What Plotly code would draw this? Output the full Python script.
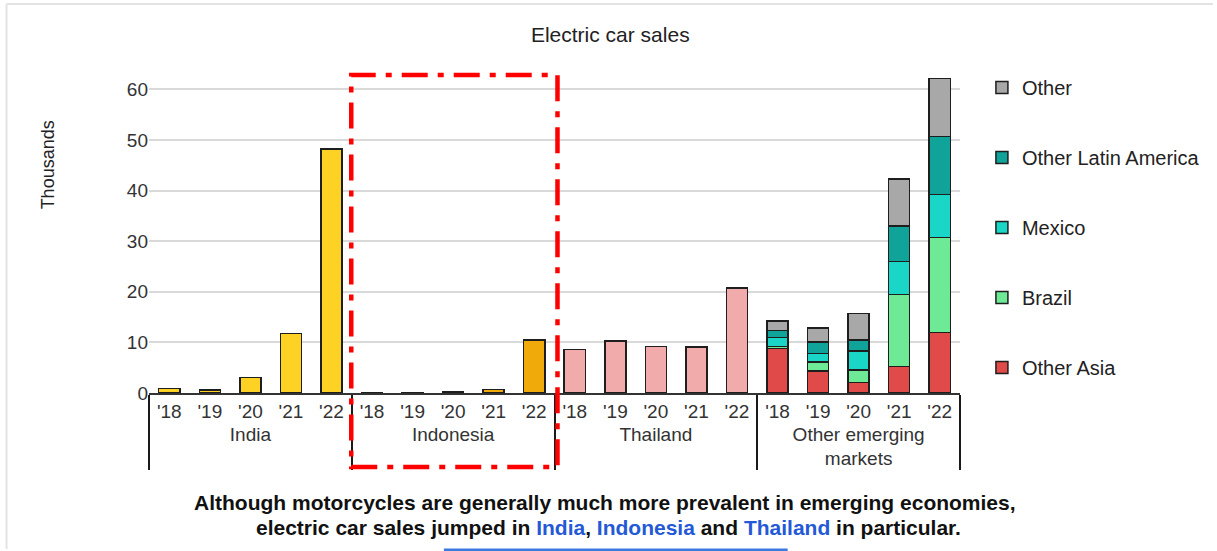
import plotly.graph_objects as go

years = ["'18", "'19", "'20", "'21", "'22"]
groups = ["India", "Indonesia", "Thailand", "Other emerging<br>markets"]

india = [0.9, 0.6, 3.1, 11.8, 48.2]
indonesia = [0.05, 0.1, 0.3, 0.7, 10.5]
thailand = [8.6, 10.3, 9.2, 9.1, 20.7]

other_asia = [8.8, 4.3, 2.1, 5.2, 12.0]
brazil = [0.4, 1.8, 2.4, 14.3, 18.7]
mexico = [1.8, 1.7, 3.8, 6.5, 8.5]
other_latam = [1.3, 2.3, 2.15, 7.0, 11.5]
other = [1.9, 2.7, 5.25, 9.3, 11.4]

FONT = "Liberation Sans, Arial, sans-serif"
OUT = "#1e1e1e"

fig = go.Figure()

def xs(g):
    return [[g] * len(years), years]

single = [
    (groups[0], india, "#FDD225"),
    (groups[1], indonesia, "#F0AA0A"),
    (groups[2], thailand, "#F2ABAB"),
]
for g, vals, col in single:
    fig.add_trace(go.Bar(x=xs(g), y=vals, name=g, showlegend=False,
                         marker=dict(color=col, line=dict(color=OUT, width=1.5))))

stack = [
    ("Other Asia", other_asia, "#E04A48"),
    ("Brazil", brazil, "#6EEA96"),
    ("Mexico", mexico, "#19D6C6"),
    ("Other Latin America", other_latam, "#10A39A"),
    ("Other", other, "#A8A8A8"),
]
for i, (name, vals, col) in enumerate(stack):
    fig.add_trace(go.Bar(x=xs(groups[3]), y=vals, name=name, legendgroup=name,
                         legendrank=len(stack) - i,
                         marker=dict(color=col, line=dict(color=OUT, width=1.5))))

fig.update_layout(
    width=1217, height=551,
    margin=dict(l=149, r=254, t=64, b=158),
    paper_bgcolor="white", plot_bgcolor="white",
    barmode="stack", bargap=0.48,
    font=dict(family=FONT, size=19, color="#333333"),
    title=dict(text="Electric car sales", x=(612 - 149) / 814, xref="paper", xanchor="center",
               y=1 - 35 / 551, yanchor="middle", font=dict(size=21, color="#222222")),
    legend=dict(x=(985 - 149) / 814, y=(393 - 68) / 329, xanchor="left", yanchor="top",
                traceorder="grouped", tracegroupgap=41, maxheight=520,
                font=dict(size=20, color="#222222"), itemwidth=30),
    showlegend=True,
)
fig.update_yaxes(range=[0, 65], tickvals=[0, 10, 20, 30, 40, 50, 60],
                 showgrid=True, gridcolor="#d9d9d9", gridwidth=1.5,
                 zeroline=False, showline=False, ticks="", ticklen=0,
                 tickfont=dict(size=19, color="#333333"))
fig.update_xaxes(type="multicategory", showline=True, linecolor="#333333", linewidth=1.5,
                 showdividers=True, dividercolor="#1a1a1a", dividerwidth=1.5,
                 ticks="", tickfont=dict(size=19, color="#333333"))

fig.add_annotation(text="Thousands", textangle=-90, xref="paper", yref="paper",
                   x=(48 - 149) / 814, y=(393 - 165) / 329, showarrow=False,
                   xanchor="center", yanchor="middle",
                   font=dict(size=18, color="#222222"))

# highlight box
fig.add_shape(type="rect", xref="paper", yref="paper",
              x0=(352 - 149) / 814, x1=(559 - 149) / 814,
              y0=(393 - 467) / 329, y1=(393 - 75) / 329,
              line=dict(color="#FF0000", width=4.5, dash="26px,10px,6px,10px"))

line1 = "<b>Although motorcycles are generally much more prevalent in emerging economies,</b>"
line2 = ("<b>electric car sales jumped in <span style='color:#2459D6'>India</span>, "
         "<span style='color:#2459D6'>Indonesia</span> and "
         "<span style='color:#2459D6'>Thailand</span> in particular.</b>")
fig.add_annotation(text=line1, xref="paper", yref="paper",
                   x=(607 - 149) / 814, y=(393 - 503) / 329, showarrow=False,
                   xanchor="center", yanchor="middle",
                   font=dict(size=21, color="#111111", family=FONT))
fig.add_annotation(text=line2, xref="paper", yref="paper",
                   x=(610 - 149) / 814, y=(393 - 527) / 329, showarrow=False,
                   xanchor="center", yanchor="middle",
                   font=dict(size=21, color="#111111", family=FONT))

fig.add_shape(type="line", xref="paper", yref="paper",
              x0=(445 - 149) / 814, x1=(790 - 149) / 814,
              y0=(393 - 550) / 329, y1=(393 - 550) / 329,
              line=dict(color="#3b78e0", width=3))

# frame
fig.add_shape(type="line", xref="paper", yref="paper",
              x0=(6 - 149) / 814, x1=(1217 - 149) / 814,
              y0=(393 - 4) / 329, y1=(393 - 4) / 329,
              line=dict(color="#e3e3e3", width=2))
fig.add_shape(type="line", xref="paper", yref="paper",
              x0=(6 - 149) / 814, x1=(6 - 149) / 814,
              y0=(393 - 4) / 329, y1=(393 - 549) / 329,
              line=dict(color="#e3e3e3", width=2))

fig.write_html("out.html")
